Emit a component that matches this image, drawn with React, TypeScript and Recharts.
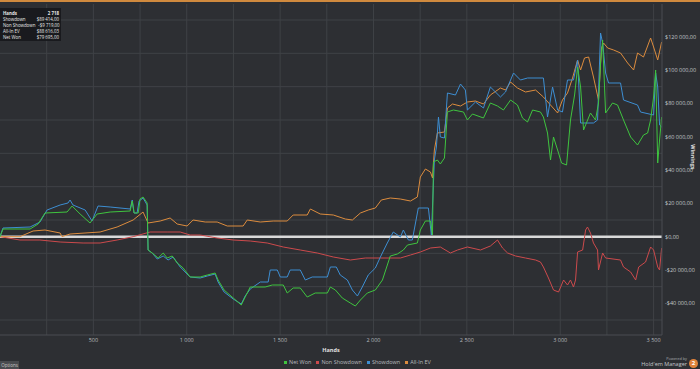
import { LineChart, Line, XAxis, YAxis, CartesianGrid, ReferenceLine, Legend } from "recharts";

const netWonHands = [0, 16, 161, 204, 241, 359, 386, 429, 482, 520, 590, 697, 708, 718, 740, 750, 766, 788, 793, 815, 847, 874, 895, 922, 949, 981, 1018, 1072, 1110, 1152, 1168, 1200, 1249, 1292, 1313, 1340, 1420, 1458, 1517, 1538, 1570, 1608, 1645, 1688, 1753, 1769, 1796, 1833, 1876, 1903, 1930, 1967, 2010, 2048, 2090, 2128, 2160, 2182, 2235, 2251, 2278, 2305, 2316, 2321, 2342, 2358, 2380, 2396, 2428, 2482, 2503, 2530, 2589, 2626, 2664, 2696, 2734, 2771, 2798, 2825, 2852, 2894, 2910, 2932, 2948, 2964, 2991, 3007, 3034, 3055, 3077, 3093, 3109, 3125, 3162, 3189, 3205, 3216, 3227, 3243, 3280, 3307, 3339, 3377, 3414, 3446, 3468, 3484, 3500, 3511, 3522, 3532, 3543];
const netWonValues = [0, 4600, 4600, 7600, 14200, 14800, 18400, 13600, 8200, 13600, 14800, 15400, 21400, 14200, 14200, 22600, 23800, 20200, -8000, -9800, -12800, -9800, -12800, -11600, -15800, -18800, -24200, -24200, -23000, -21800, -26000, -32000, -36800, -41000, -36200, -30200, -30200, -29000, -29000, -33800, -30800, -30800, -36200, -33800, -33800, -30200, -32000, -36800, -39800, -41600, -38000, -33800, -32000, -26000, -11600, -10400, -8000, -5000, -3800, 4000, 9400, 9400, 1000, 44800, 46000, 43600, 47200, 74800, 76000, 74800, 70000, 73600, 71200, 80200, 78400, 76000, 82000, 79000, 71200, 68800, 76000, 74800, 71800, 62200, 46000, 59800, 50200, 44200, 43000, 70000, 85000, 101800, 89800, 64000, 74200, 70000, 80200, 104200, 118000, 74200, 80200, 79000, 70000, 59800, 55000, 61000, 62200, 70000, 83800, 100000, 44200, 58000, 71800];

const nonShowdownHands = [0, 107, 214, 322, 445, 536, 627, 713, 804, 895, 965, 1018, 1072, 1163, 1249, 1340, 1431, 1517, 1608, 1699, 1785, 1876, 1956, 2037, 2144, 2198, 2251, 2305, 2358, 2412, 2450, 2503, 2573, 2626, 2664, 2691, 2718, 2761, 2814, 2868, 2894, 2910, 2937, 2964, 2991, 3018, 3039, 3055, 3071, 3082, 3093, 3120, 3136, 3146, 3162, 3178, 3200, 3205, 3227, 3243, 3323, 3339, 3377, 3404, 3420, 3457, 3484, 3500, 3522, 3532, 3543];
const nonShowdownValues = [0, -2000, -2000, -3200, -3800, -3800, -2000, 0, 2800, 2800, 2800, 1000, 1000, -800, -2000, -2600, -3800, -6200, -8000, -9800, -12200, -14000, -12800, -12800, -12800, -11000, -9200, -6800, -6200, -9800, -8000, -6200, -8000, -5600, -2000, -6800, -9800, -11600, -12800, -14000, -15200, -18200, -24800, -32000, -33200, -26000, -29000, -26000, -30200, -26000, -9200, -8000, 4000, 5800, 2200, -3800, -8000, -20000, -9800, -12800, -14000, -18200, -21200, -26000, -18200, -15200, -6200, -8000, -18200, -20000, -6800];

const showdownHands = [0, 16, 161, 214, 252, 322, 364, 375, 391, 456, 493, 525, 590, 697, 708, 718, 734, 745, 766, 788, 793, 815, 842, 874, 900, 927, 965, 1018, 1072, 1110, 1152, 1168, 1200, 1249, 1292, 1313, 1340, 1394, 1436, 1447, 1485, 1501, 1538, 1554, 1608, 1635, 1672, 1753, 1769, 1801, 1822, 1860, 1887, 1914, 1940, 1972, 2010, 2037, 2074, 2106, 2144, 2160, 2187, 2208, 2240, 2294, 2310, 2326, 2337, 2348, 2358, 2380, 2396, 2439, 2466, 2492, 2503, 2546, 2589, 2626, 2680, 2707, 2750, 2787, 2825, 2910, 2932, 2959, 2986, 3012, 3039, 3071, 3093, 3109, 3178, 3200, 3216, 3227, 3243, 3259, 3323, 3339, 3414, 3430, 3500, 3511, 3522, 3532, 3543];
const showdownValues = [0, 5200, 5800, 8800, 16000, 19000, 20200, 22000, 19000, 16000, 9400, 18400, 17800, 16600, 22000, 14200, 14200, 21400, 23200, 19000, -8000, -9800, -13400, -11600, -14000, -12200, -18200, -24200, -24800, -23600, -22400, -27200, -33200, -37400, -40400, -35600, -31400, -27200, -27200, -20000, -20000, -24200, -24200, -20000, -20000, -26000, -24200, -24200, -18200, -18200, -23000, -26000, -32000, -35600, -30200, -23000, -18800, -12200, -3800, 2800, -200, 4000, -2000, -2000, 17200, 17200, 1000, 46000, 53800, 71800, 59800, 59200, 86200, 85000, 91600, 88000, 76000, 80800, 77200, 89800, 83800, 86800, 98200, 94000, 95200, 95200, 71800, 89800, 76000, 74800, 94000, 94000, 106000, 68200, 68200, 70000, 122200, 116200, 98200, 92200, 92200, 82000, 79000, 74800, 73000, 98200, 89800, 67000, 65800];

const allInEvHands = [0, 107, 177, 241, 322, 332, 375, 536, 627, 713, 766, 793, 858, 911, 949, 1002, 1034, 1099, 1163, 1217, 1302, 1324, 1394, 1463, 1538, 1570, 1645, 1662, 1715, 1785, 1849, 1887, 1930, 1972, 2010, 2042, 2090, 2144, 2198, 2235, 2251, 2278, 2305, 2316, 2326, 2342, 2380, 2396, 2423, 2466, 2503, 2546, 2589, 2626, 2680, 2707, 2734, 2771, 2814, 2868, 2910, 2948, 2986, 3012, 3039, 3066, 3093, 3109, 3130, 3152, 3178, 3205, 3221, 3232, 3254, 3286, 3323, 3361, 3393, 3414, 3446, 3484, 3500, 3522, 3543];
const allInEvValues = [0, 0, 3400, 4000, 2200, 0, 1600, 2800, 5800, 10000, 14800, 8200, 9400, 11200, 7600, 6400, 10000, 8800, 8800, 6400, 6400, 10000, 8800, 9400, 9400, 13000, 13000, 16600, 13600, 13000, 10600, 10000, 14200, 16000, 17200, 22000, 23200, 22600, 21400, 23800, 35800, 40600, 38800, 35200, 52000, 62200, 62800, 77200, 79600, 78400, 80800, 81400, 79600, 85000, 89200, 88000, 92800, 89200, 86800, 88000, 83800, 79000, 74200, 82000, 86200, 95200, 106000, 100000, 107200, 107800, 95800, 82000, 113200, 116200, 113200, 112000, 110200, 104200, 100000, 110200, 107800, 119200, 113800, 106000, 116800];

const xTicks = [500, 1000, 1500, 2000, 2500, 3000, 3500];
const yTicks = [-40000, -20000, 0, 20000, 40000, 60000, 80000, 100000, 120000];
const gridX = [250, 500, 750, 1000, 1250, 1500, 1750, 2000, 2250, 2500, 2750, 3000, 3250, 3500];
const gridY = [-50000, -40000, -30000, -20000, -10000, 10000, 20000, 30000, 40000, 50000, 60000, 70000, 80000, 90000, 100000, 110000, 120000, 130000];

const summaryLabels = ["Hands", "Showdown", "Non Showdown", "All-In EV", "Net Won"];
const summaryValues = ["2 718", "$89 414,00", "-$9 719,00", "$88 616,03", "$79 695,00"];

const legendItems = [
  { name: "Net Won", color: "#3fc43f" },
  { name: "Non Showdown", color: "#cc4a4c" },
  { name: "Showdown", color: "#3d8ed2" },
  { name: "All-In EV", color: "#dc8c3e" },
];

const zip = (hands: number[], values: number[]) => hands.map((h, i) => ({ hands: h, value: values[i] }));

const netWon = zip(netWonHands, netWonValues);
const nonShowdown = zip(nonShowdownHands, nonShowdownValues);
const showdown = zip(showdownHands, showdownValues);
const allInEv = zip(allInEvHands, allInEvValues);

const FONT = "'Open Sans', 'Noto Sans', sans-serif";

const groupThousands = (n: number) => String(Math.abs(n)).replace(/\B(?=(\d{3})+(?!\d))/g, " ");
const formatHands = (v: number) => groupThousands(v);
const formatMoney = (v: number) => (v < 0 ? "-" : "") + "$" + groupThousands(v) + ",00";

function MoneyTick(props: any) {
  const { x, y, payload } = props;
  return (
    <text x={x} y={y} dy={2} textAnchor="start" fontSize={5.5} fill="#c4c7cb" fontFamily={FONT} style={{ whiteSpace: "pre" }}>
      {formatMoney(payload.value)}
    </text>
  );
}

function BottomLegend() {
  return (
    <div style={{ display: "flex", gap: 5, fontFamily: FONT, fontSize: 5.5, color: "#b8bbbf", lineHeight: "14px", whiteSpace: "nowrap" }}>
      {legendItems.map((item) => (
        <span key={item.name} style={{ display: "flex", alignItems: "center", gap: 2 }}>
          <span style={{ width: 3, height: 3, background: item.color, display: "inline-block" }} />
          {item.name}
        </span>
      ))}
    </div>
  );
}

export default function App() {
  return (
    <div style={{ position: "absolute", left: 0, top: 0, width: 700, height: 369, background: "#2d2f33", overflow: "hidden" }}>
      <div style={{ position: "absolute", left: 0, top: 0, width: 700, height: 2, background: "#d08a3e" }} />
      <LineChart width={700} height={369} margin={{ top: 4, right: 0, bottom: 0, left: 0 }}>
        <CartesianGrid stroke="#3f4246" strokeWidth={1} horizontalValues={gridY} verticalValues={gridX} />
        <XAxis
          type="number"
          dataKey="hands"
          domain={[0, 3545]}
          ticks={xTicks}
          tickFormatter={formatHands}
          height={20}
          tickLine={false}
          tickSize={1}
          axisLine={{ stroke: "#4a4d52" }}
          tick={{ fontSize: 5.5, fill: "#b8bbbf", fontFamily: FONT }}
          allowDataOverflow
          label={{ value: "Hands", position: "insideBottom", offset: 3, fontSize: 5.5, fill: "#e0e0e0", fontWeight: "bold", fontFamily: FONT }}
        />
        <YAxis
          orientation="right"
          type="number"
          domain={[-59000, 139600]}
          ticks={yTicks}
          width={38}
          tickLine={false}
          tickSize={1}
          axisLine={{ stroke: "#4a4d52" }}
          tick={MoneyTick}
          allowDataOverflow
          label={{ value: "Winnings", angle: 90, position: "insideRight", offset: 7, fontSize: 5.5, fill: "#e0e0e0", fontWeight: "bold", fontFamily: FONT }}
        />
        <Legend verticalAlign="bottom" height={14} wrapperStyle={{ left: 284, bottom: 0, width: 160 }} content={() => <BottomLegend />} />
        <ReferenceLine y={0} stroke="#d9d9d9" strokeWidth={2.5} />
        <Line data={nonShowdown} dataKey="value" name="Non Showdown" stroke="#cc4a4c" strokeWidth={1} dot={false} isAnimationActive={false} />
        <Line data={allInEv} dataKey="value" name="All-In EV" stroke="#dc8c3e" strokeWidth={1} dot={false} isAnimationActive={false} />
        <Line data={showdown} dataKey="value" name="Showdown" stroke="#3d8ed2" strokeWidth={1} dot={false} isAnimationActive={false} />
        <Line data={netWon} dataKey="value" name="Net Won" stroke="#3fc43f" strokeWidth={1} dot={false} isAnimationActive={false} />
      </LineChart>

      <div style={{ position: "absolute", left: 0, top: 8, width: 61, height: 33, background: "rgba(24,25,28,0.92)", fontFamily: FONT, fontSize: 4.4, color: "#e8e8e8", padding: "2px 2px 0 3px", boxSizing: "border-box", whiteSpace: "nowrap" }}>
        {summaryLabels.map((label, i) => (
          <div key={label} style={{ display: "flex", justifyContent: "space-between", gap: 3, lineHeight: "6px", fontWeight: i === 0 ? "bold" : "normal" }}>
            <span>{label}</span>
            <span>{summaryValues[i]}</span>
          </div>
        ))}
      </div>

      <div style={{ position: "absolute", left: 0, top: 361, width: 19, height: 8, background: "#484a4e", fontFamily: FONT, fontSize: 4.5, color: "#c8c8c8", lineHeight: "8px", textAlign: "center" }}>Options</div>

      <div style={{ position: "absolute", right: 13, top: 356, fontFamily: FONT, color: "#a8abaf", textAlign: "right", whiteSpace: "nowrap" }}>
        <div style={{ fontSize: 3.8, lineHeight: "5px" }}>Powered by</div>
        <div style={{ fontSize: 5.5, lineHeight: "7px", color: "#c4c7cb" }}>Hold'em Manager</div>
      </div>
      <div style={{ position: "absolute", left: 689, top: 359, width: 9, height: 9, borderRadius: "50%", background: "#e0823a", color: "#fff", fontFamily: FONT, fontSize: 6, fontWeight: "bold", lineHeight: "9px", textAlign: "center" }}>2</div>
    </div>
  );
}
